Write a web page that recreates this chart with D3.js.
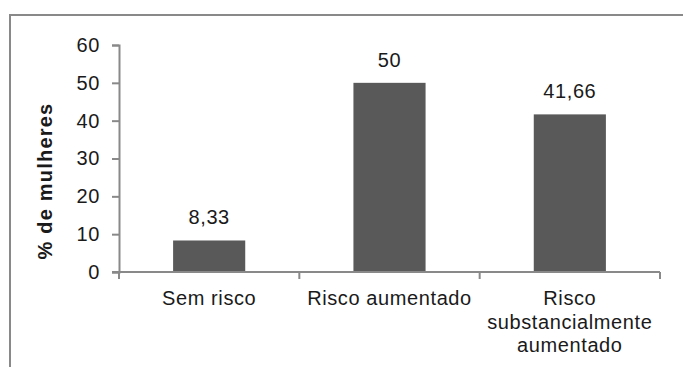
<!DOCTYPE html>
<html>
<head>
<meta charset="utf-8">
<script src="https://cdn.jsdelivr.net/npm/d3@7"></script>
<style>
  html, body { margin: 0; padding: 0; background: #fff; }
  svg { display: block; font-family: "Liberation Sans", Arial, sans-serif; }
</style>
</head>
<body>
<svg id="chart" width="683" height="367"></svg>
<script>
// Women by risk category (%)
const categories = [["Sem risco"], ["Risco aumentado"], ["Risco", "substancialmente", "aumentado"]];
const values = [8.33, 50, 41.66];
const valueLabels = ["8,33", "50", "41,66"];
const yTicks = [0, 10, 20, 30, 40, 50, 60];
const yTitle = "% de mulheres";

const svg = d3.select("#chart");
const axisColor = "#898989";
const barColor = "#595959";
const textColor = "#1a1a1a";

// Outer frame (top and left edges visible)
svg.append("path")
  .attr("d", "M10,367 V15 H683")
  .attr("fill", "none")
  .attr("stroke", axisColor)
  .attr("stroke-width", 2);

const plot = { left: 119, right: 660, top: 45, bottom: 272 };

const keys = categories.map(c => c.join(" "));
const x = d3.scaleBand()
  .domain(keys)
  .range([plot.left, plot.right])
  .paddingInner(0.6)
  .paddingOuter(0.3);

const y = d3.scaleLinear().domain([0, 60]).range([plot.bottom, plot.top]);

// Bars
svg.append("g").selectAll("rect")
  .data(values)
  .join("rect")
  .attr("x", (d, i) => x(keys[i]))
  .attr("width", x.bandwidth())
  .attr("y", d => y(d))
  .attr("height", d => y(0) - y(d))
  .attr("fill", barColor);

// Y axis
const yAxis = svg.append("g")
  .attr("transform", `translate(${plot.left},0)`)
  .call(d3.axisLeft(y).tickValues(yTicks).tickSize(7).tickPadding(12).tickFormat(d3.format("d")));
yAxis.select(".domain").attr("stroke", axisColor).attr("stroke-width", 2);
yAxis.selectAll(".tick line").attr("stroke", axisColor).attr("stroke-width", 2);
yAxis.selectAll(".tick text")
  .attr("fill", textColor)
  .style("font-size", "20px")
  .style("letter-spacing", "0.6px");

// X axis: baseline with ticks at category boundaries
const step = x.step();
const bounds = keys.map((k, i) => plot.left + i * (plot.right - plot.left) / keys.length)
  .concat([plot.right]);
const xAxis = svg.append("g");
xAxis.append("line")
  .attr("x1", plot.left - 7).attr("x2", plot.right)
  .attr("y1", y(0)).attr("y2", y(0))
  .attr("stroke", axisColor).attr("stroke-width", 2);
xAxis.selectAll("line.bt")
  .data(bounds)
  .join("line")
  .attr("class", "bt")
  .attr("x1", d => d).attr("x2", d => d)
  .attr("y1", y(0)).attr("y2", y(0) + 7)
  .attr("stroke", axisColor).attr("stroke-width", 2);

// Category labels
svg.append("g").selectAll("text")
  .data(categories)
  .join("text")
  .attr("x", (d, i) => x(keys[i]) + x.bandwidth() / 2)
  .attr("y", 305)
  .attr("text-anchor", "middle")
  .attr("fill", textColor)
  .style("font-size", "20px")
  .style("letter-spacing", "0.6px")
  .selectAll("tspan")
  .data(d => d)
  .join("tspan")
  .attr("x", function () { return d3.select(this.parentNode).attr("x"); })
  .attr("dy", (d, i) => i === 0 ? 0 : 23.5)
  .text(d => d);

// Value labels above bars
svg.append("g").selectAll("text")
  .data(values)
  .join("text")
  .attr("x", (d, i) => x(keys[i]) + x.bandwidth() / 2)
  .attr("y", d => y(d) - 16)
  .attr("text-anchor", "middle")
  .attr("fill", textColor)
  .style("font-size", "20px")
  .style("letter-spacing", "0.6px")
  .text((d, i) => valueLabels[i]);

// Y axis title
svg.append("text")
  .attr("transform", `translate(52,${(100 + 262) / 2}) rotate(-90)`)
  .attr("text-anchor", "middle")
  .attr("fill", textColor)
  .style("font-size", "20px")
  .style("font-weight", "bold")
  .style("letter-spacing", "1.2px")
  .text(yTitle);
</script>
</body>
</html>
